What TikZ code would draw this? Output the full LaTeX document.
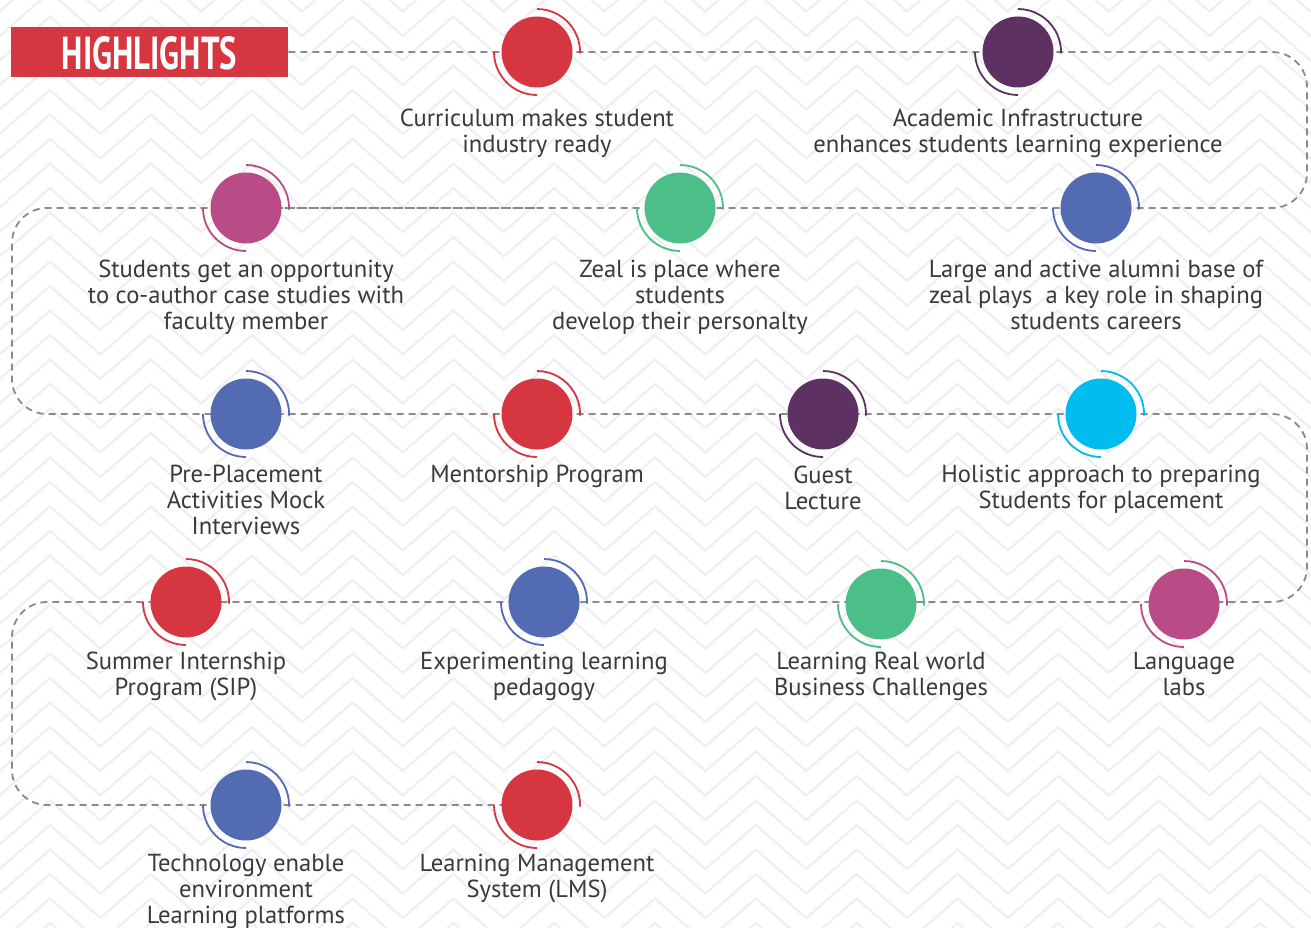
\documentclass[tikz,border=0pt]{standalone}
\usepackage{fontspec}
\setmainfont{PT Sans}
\definecolor{cred}{HTML}{D5363F}
\definecolor{cpurple}{HTML}{5E3163}
\definecolor{cpink}{HTML}{B94C86}
\definecolor{cgreen}{HTML}{4CBF88}
\definecolor{cblue}{HTML}{536BB2}
\definecolor{ccyan}{HTML}{00BCEF}
\definecolor{ctext}{HTML}{3A3A3A}
\definecolor{cdash}{HTML}{8A8A8A}
\definecolor{czz}{HTML}{EFEFEF}
\tikzset{
  zz/.style={draw=czz, line width=2.2pt, line join=miter},
  dashline/.style={draw=cdash, line width=1.8pt, dash pattern=on 7pt off 5pt, rounded corners=35pt},
  dot/.style={circle, minimum size=71pt, inner sep=0pt, draw=none},
  arcline/.style={line width=1.8pt},
  lbl/.style={text=ctext, align=center, inner sep=0pt, anchor=north, font=\fontsize{24.6}{26}\selectfont},
}
\newcommand\hitem[4]{%
  \node[dot, fill=#4] (#1) at (#2,#3) {};
  \draw[arcline, #4] (#1.center) ++(-90:43) arc (-90:2:43);
  \draw[arcline, #4] (#1.center) ++(180:43) arc (180:90:43);
}
\begin{document}
\begin{tikzpicture}[x=1pt,y=-1pt]
\useasboundingbox (0,0) rectangle (1311,928);
\fill[white] (0,0) rectangle (1311,928);
% chevron background
\begin{scope}
\clip (0,0) rectangle (1311,928);
\foreach \n [evaluate=\n as \yp using 16.5+24.5*\n, evaluate=\n as \yv using 60.5+24.5*\n] in {-3,...,38} {
  \draw[zz] (-50.83,\yp) \foreach \k in {-1,...,12} { -- ({100.4+100.83*\k},\yv) -- ({50+100.83*(\k+1)},\yp) };
}
\end{scope}
% title
\node[fill=cred, minimum width=277pt, minimum height=50pt, inner sep=0pt, anchor=west] (hl) at (11,52) {};
\node[text=white, inner sep=0pt] (hlt) at (149.5,53) {\resizebox{175pt}{33pt}{\bfseries HIGHLIGHTS}};
% corner coordinates
\coordinate (k1) at (1307,52);
\coordinate (k2) at (1307,208);
\coordinate (k3) at (12,208);
\coordinate (k4) at (12,414);
\coordinate (k5) at (1307,414);
\coordinate (k6) at (1307,602);
\coordinate (k7) at (12,602);
\coordinate (k8) at (12,805);
\coordinate (se) at (542,208);
\coordinate (p1) at (537,52);
\coordinate (p2) at (1018,52);
\coordinate (p3) at (246,208);
\coordinate (p4) at (680,208);
\coordinate (p5) at (1096,208);
\coordinate (p6) at (246,414);
\coordinate (p7) at (537,414);
\coordinate (p8) at (823,414);
\coordinate (p9) at (1101,414);
\coordinate (p10) at (186,602);
\coordinate (p11) at (544,602);
\coordinate (p12) at (881,602);
\coordinate (p13) at (1184,602);
\coordinate (p14) at (246,805);
\coordinate (p15) at (537,805);
\draw[dashline] (hl.east) -- (p1) -- (p2) -- (k1) -- (k2) -- (p5) -- (p4) -- (p3) -- (k3) -- (k4) -- (p6) -- (p7) -- (p8) -- (p9) -- (k5) -- (k6) -- (p13) -- (p12) -- (p11) -- (p10) -- (k7) -- (k8) -- (p14) -- (p15);
\draw[draw=cdash, line width=1.8pt, dash pattern=on 7pt off 5pt, dash phase=6pt] (p3) -- (se);
% items
\hitem{c1}{537}{52}{cred}
\hitem{c2}{1018}{52}{cpurple}
\hitem{c3}{246}{208}{cpink}
\hitem{c4}{680}{208}{cgreen}
\hitem{c5}{1096}{208}{cblue}
\hitem{c6}{246}{414}{cblue}
\hitem{c7}{537}{414}{cred}
\hitem{c8}{823}{414}{cpurple}
\hitem{c9}{1101}{414}{ccyan}
\hitem{c10}{186}{602}{cred}
\hitem{c11}{544}{602}{cblue}
\hitem{c12}{881}{604}{cgreen}
\hitem{c13}{1184}{604}{cpink}
\hitem{c14}{246}{805}{cblue}
\hitem{c15}{537}{805}{cred}
% labels
\node[lbl] (t1) at (537,109) {Curriculum makes student\\industry ready};
\node[lbl] (t2) at (1018,109) {Academic Infrastructure\\enhances students learning experience};
\node[lbl] (t3) at (246,260) {Students get an opportunity\\to co-author case studies with\\faculty member};
\node[lbl] (t4) at (680,260) {Zeal is place where\\students\\develop their personalty};
\node[lbl] (t5) at (1096,260) {Large and active alumni base of\\zeal plays~ a key role in shaping\\students careers};
\node[lbl] (t6) at (246,465) {Pre-Placement\\Activities Mock\\Interviews};
\node[lbl] (t7) at (537,465) {Mentorship Program};
\node[lbl] (t8) at (823,466) {Guest\\Lecture};
\node[lbl] (t9) at (1101,465) {Holistic approach to preparing\\Students for placement};
\node[lbl] (t10) at (186,652) {Summer Internship\\Program (SIP)};
\node[lbl] (t11) at (544,652) {Experimenting learning\\pedagogy};
\node[lbl] (t12) at (881,652) {Learning Real world\\Business Challenges};
\node[lbl] (t13) at (1184,652) {Language\\labs};
\node[lbl] (t14) at (246,854) {Technology enable\\environment\\Learning platforms};
\node[lbl] (t15) at (537,854) {Learning Management\\System (LMS)};
\end{tikzpicture}
\end{document}
